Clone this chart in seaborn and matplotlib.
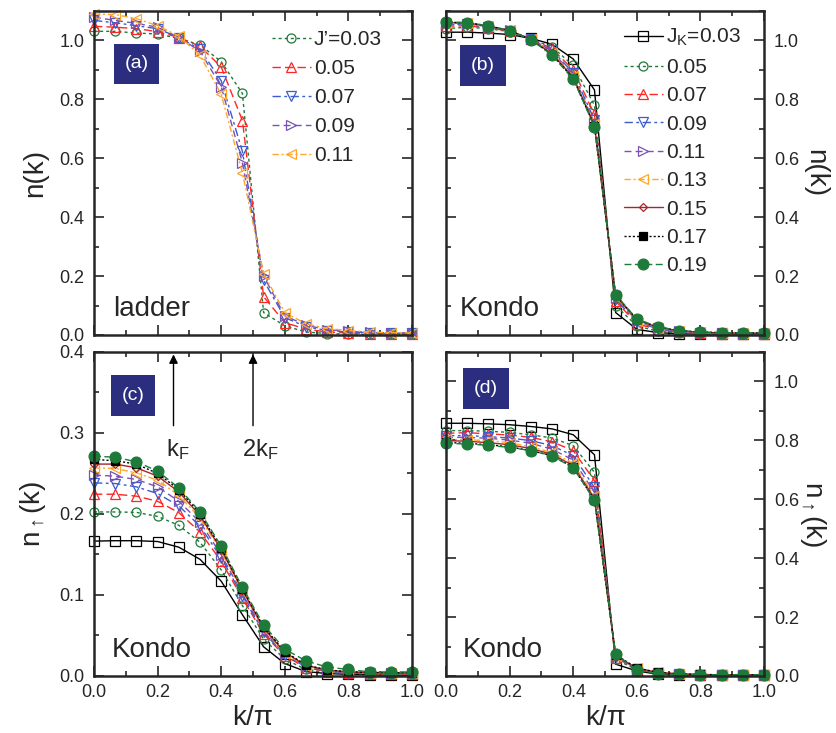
import numpy as np
import matplotlib
matplotlib.use("Agg")
import matplotlib.pyplot as plt
from matplotlib.patches import Rectangle
from matplotlib.ticker import MultipleLocator
import seaborn as sns

sns.set_style("ticks")
plt.rcParams["font.family"] = ["Liberation Sans", "DejaVu Sans"]
plt.rcParams["mathtext.default"] = "regular"

# momentum grid k/pi
k_over_pi = np.arange(16) / 15

# ---- (a) ladder, n(k) for several J'
ladder_labels = ["J\u2019=0.03", "0.05", "0.07", "0.09", "0.11"]
a_003 = [1.031, 1.031, 1.025, 1.022, 1.007, 0.985, 0.928, 0.820, 0.076, 0.031, 0.010, 0.005, 0.003, 0.002, 0.002, 0.002]
a_005 = [1.048, 1.045, 1.040, 1.030, 1.010, 0.980, 0.910, 0.728, 0.130, 0.042, 0.020, 0.010, 0.007, 0.005, 0.004, 0.004]
a_007 = [1.068, 1.060, 1.050, 1.040, 1.010, 0.970, 0.863, 0.623, 0.185, 0.059, 0.028, 0.015, 0.010, 0.008, 0.006, 0.006]
a_009 = [1.079, 1.068, 1.058, 1.045, 1.010, 0.964, 0.843, 0.584, 0.200, 0.065, 0.033, 0.018, 0.012, 0.009, 0.007, 0.007]
a_011 = [1.090, 1.088, 1.074, 1.050, 1.015, 0.950, 0.817, 0.550, 0.208, 0.076, 0.038, 0.022, 0.015, 0.010, 0.008, 0.007]

# ---- (b) Kondo, n(k) for several J_K
kondo_labels = ["J$_K$=0.03", "0.05", "0.07", "0.09", "0.11", "0.13", "0.15", "0.17", "0.19"]
b_003 = [1.028, 1.028, 1.025, 1.020, 1.007, 0.987, 0.937, 0.832, 0.076, 0.019, 0.008, 0.004, 0.003, 0.003, 0.003, 0.003]
b_005 = [1.040, 1.045, 1.040, 1.030, 1.005, 0.978, 0.915, 0.780, 0.100, 0.030, 0.013, 0.006, 0.004, 0.003, 0.003, 0.003]
b_007 = [1.048, 1.050, 1.042, 1.032, 1.005, 0.972, 0.900, 0.749, 0.115, 0.038, 0.018, 0.009, 0.006, 0.005, 0.004, 0.004]
b_009 = [1.053, 1.054, 1.045, 1.033, 1.004, 0.966, 0.890, 0.730, 0.122, 0.043, 0.021, 0.011, 0.007, 0.006, 0.005, 0.005]
b_011 = [1.056, 1.056, 1.047, 1.034, 1.004, 0.962, 0.883, 0.720, 0.127, 0.046, 0.023, 0.012, 0.008, 0.006, 0.005, 0.005]
b_013 = [1.058, 1.058, 1.048, 1.034, 1.004, 0.958, 0.878, 0.715, 0.130, 0.049, 0.025, 0.013, 0.009, 0.007, 0.006, 0.006]
b_015 = [1.060, 1.059, 1.049, 1.034, 1.003, 0.955, 0.874, 0.712, 0.133, 0.051, 0.026, 0.014, 0.009, 0.007, 0.006, 0.006]
b_017 = [1.062, 1.060, 1.050, 1.033, 1.003, 0.952, 0.871, 0.709, 0.135, 0.053, 0.027, 0.015, 0.010, 0.008, 0.007, 0.007]
b_019 = [1.064, 1.060, 1.050, 1.033, 1.003, 0.950, 0.868, 0.707, 0.137, 0.054, 0.028, 0.015, 0.010, 0.008, 0.007, 0.007]

# ---- (c) Kondo, spin-up n(k), small scale
c_003 = [0.1665, 0.167, 0.167, 0.166, 0.159, 0.144, 0.117, 0.0756, 0.036, 0.0153, 0.0054, 0.003, 0.002, 0.0015, 0.001, 0.001]
c_005 = [0.2025, 0.2025, 0.202, 0.197, 0.186, 0.165, 0.131, 0.0868, 0.0455, 0.0207, 0.008, 0.0045, 0.003, 0.0025, 0.002, 0.002]
c_007 = [0.2244, 0.2244, 0.222, 0.2157, 0.2017, 0.1777, 0.1417, 0.096, 0.0517, 0.0248, 0.0103, 0.0055, 0.0035, 0.003, 0.0025, 0.0025]
c_009 = [0.2384, 0.2376, 0.2335, 0.2252, 0.210, 0.185, 0.146, 0.099, 0.0537, 0.026, 0.011, 0.006, 0.004, 0.0035, 0.003, 0.003]
c_011 = [0.248, 0.2467, 0.2426, 0.2335, 0.2157, 0.190, 0.1496, 0.102, 0.0558, 0.0269, 0.012, 0.0065, 0.0045, 0.0038, 0.0033, 0.0033]
c_013 = [0.257, 0.2562, 0.2508, 0.2417, 0.2231, 0.195, 0.1537, 0.1045, 0.0579, 0.028, 0.0125, 0.007, 0.0048, 0.004, 0.0035, 0.0035]
c_015 = [0.2616, 0.2616, 0.257, 0.2467, 0.2273, 0.198, 0.156, 0.106, 0.059, 0.029, 0.013, 0.0072, 0.005, 0.0042, 0.0037, 0.0037]
c_017 = [0.2674, 0.2657, 0.2616, 0.250, 0.2302, 0.2004, 0.158, 0.107, 0.0607, 0.030, 0.0135, 0.0075, 0.0052, 0.0044, 0.004, 0.004]
c_019 = [0.2715, 0.270, 0.2645, 0.2529, 0.2322, 0.2025, 0.1603, 0.1095, 0.0628, 0.033, 0.0186, 0.011, 0.008, 0.005, 0.005, 0.005]

# ---- (d) Kondo, spin-up n(k), full scale
d_003 = [0.858, 0.858, 0.856, 0.853, 0.847, 0.839, 0.819, 0.751, 0.040, 0.017, 0.006, 0.003, 0.002, 0.002, 0.002, 0.002]
d_005 = [0.833, 0.833, 0.831, 0.827, 0.819, 0.808, 0.782, 0.691, 0.057, 0.020, 0.009, 0.005, 0.004, 0.003, 0.003, 0.003]
d_007 = [0.824, 0.826, 0.822, 0.818, 0.810, 0.795, 0.765, 0.663, 0.0625, 0.023, 0.010, 0.006, 0.004, 0.003, 0.003, 0.003]
d_009 = [0.816, 0.816, 0.8125, 0.808, 0.799, 0.782, 0.748, 0.640, 0.065, 0.024, 0.011, 0.006, 0.004, 0.003, 0.003, 0.003]
d_011 = [0.810, 0.810, 0.807, 0.801, 0.790, 0.770, 0.733, 0.623, 0.066, 0.025, 0.011, 0.006, 0.004, 0.004, 0.003, 0.003]
d_013 = [0.803, 0.802, 0.799, 0.792, 0.778, 0.759, 0.722, 0.611, 0.068, 0.026, 0.012, 0.007, 0.005, 0.004, 0.004, 0.004]
d_015 = [0.799, 0.797, 0.792, 0.785, 0.772, 0.753, 0.714, 0.603, 0.069, 0.026, 0.012, 0.007, 0.005, 0.004, 0.004, 0.004]
d_017 = [0.793, 0.790, 0.785, 0.778, 0.765, 0.748, 0.708, 0.597, 0.072, 0.027, 0.012, 0.007, 0.005, 0.004, 0.004, 0.004]
d_019 = [0.790, 0.7875, 0.783, 0.776, 0.765, 0.748, 0.706, 0.597, 0.074, 0.020, 0.007, 0.005, 0.004, 0.004, 0.004, 0.004]

GREEN = "#1d7a3a"
RED = "#ff2626"
BLUE = "#3a5ccc"
PURPLE = "#7a52b3"
ORANGE = "#ffa62b"
DKRED = "#a3282b"
BLACK = "#000000"

DOT = (0, (2.2, 2.2))
DASH = (0, (6, 3))
DASHDOT = (0, (6, 2.5, 2, 2.5))
DASH2 = (0, (5, 3))
DASHDOT2 = (0, (4.5, 2, 1.5, 2))
FINEDOT = (0, (1.5, 1.5))
DASH3 = (0, (5, 2.5))

ladder_styles = [
    dict(color=GREEN, linestyle=DOT, marker="o", filled=False, ms=6.5),
    dict(color=RED, linestyle=DASH, marker="^", filled=False, ms=6.5),
    dict(color=BLUE, linestyle=DASHDOT, marker="v", filled=False, ms=6.5),
    dict(color=PURPLE, linestyle=DASH2, marker=">", filled=False, ms=6.5),
    dict(color=ORANGE, linestyle=DASHDOT2, marker="<", filled=False, ms=6.5),
]
kondo_styles = [
    dict(color=BLACK, linestyle="-", marker="s", filled=False, ms=6.5),
    dict(color=GREEN, linestyle=DOT, marker="o", filled=False, ms=6.5),
    dict(color=RED, linestyle=DASH, marker="^", filled=False, ms=6.5),
    dict(color=BLUE, linestyle=DASHDOT, marker="v", filled=False, ms=6.5),
    dict(color=PURPLE, linestyle=DASH2, marker=">", filled=False, ms=6.5),
    dict(color=ORANGE, linestyle=DASHDOT2, marker="<", filled=False, ms=6.5),
    dict(color=DKRED, linestyle="-", marker="D", filled=False, ms=4.5),
    dict(color=BLACK, linestyle=FINEDOT, marker="s", filled=True, ms=6.0),
    dict(color=GREEN, linestyle=DASH3, marker="o", filled=True, ms=7.8),
]

ladder_series = [a_003, a_005, a_007, a_009, a_011]
kondo_b = [b_003, b_005, b_007, b_009, b_011, b_013, b_015, b_017, b_019]
kondo_c = [c_003, c_005, c_007, c_009, c_011, c_013, c_015, c_017, c_019]
kondo_d = [d_003, d_005, d_007, d_009, d_011, d_013, d_015, d_017, d_019]

fig = plt.figure(figsize=(8.37, 7.33), dpi=100)
W, H = 0.380, 0.442
ax_a = fig.add_axes([0.1123, 0.543, W, H])
ax_b = fig.add_axes([0.5329, 0.543, W, H])
ax_c = fig.add_axes([0.1123, 0.0778, W, H])
ax_d = fig.add_axes([0.5329, 0.0778, W, H])


def draw(ax, series, styles, labels):
    for vals, st, lab in zip(series, styles, labels):
        sns.lineplot(
            x=k_over_pi, y=vals, ax=ax, legend=False, errorbar=None,
            color=st["color"], linestyle=st["linestyle"], linewidth=1.0,
            marker=st["marker"], markersize=st["ms"],
            markerfacecolor=st["color"] if st["filled"] else "none",
            markeredgecolor=st["color"], markeredgewidth=0.9,
            label=lab, clip_on=False,
        )


draw(ax_a, ladder_series, ladder_styles, ladder_labels)
draw(ax_b, kondo_b, kondo_styles, kondo_labels)
draw(ax_c, kondo_c, kondo_styles, kondo_labels)
draw(ax_d, kondo_d, kondo_styles, kondo_labels)

for ax in (ax_a, ax_b, ax_c, ax_d):
    ax.set_xlim(0, 1)
    ax.xaxis.set_major_locator(MultipleLocator(0.2))
    ax.xaxis.set_minor_locator(MultipleLocator(0.1))
    ax.tick_params(which="both", direction="in", top=True, right=True,
                   labelsize=13)
    ax.tick_params(which="major", length=7, width=1.2)
    ax.tick_params(which="minor", length=3.5, width=1.2)
    ax.tick_params(axis="x", pad=6)
    ax.tick_params(axis="y", pad=7)
    for sp in ax.spines.values():
        sp.set_linewidth(1.8)
    ax.set_xlabel("")
    ax.set_ylabel("")

for ax in (ax_a, ax_b, ax_d):
    ax.set_ylim(0, 1.1)
    ax.yaxis.set_major_locator(MultipleLocator(0.2))
    ax.yaxis.set_minor_locator(MultipleLocator(0.1))
ax_c.set_ylim(0, 0.4)
ax_c.yaxis.set_major_locator(MultipleLocator(0.1))
ax_c.yaxis.set_minor_locator(MultipleLocator(0.05))

for ax in (ax_a, ax_b):
    ax.tick_params(labelbottom=False)
for ax in (ax_b, ax_d):
    ax.tick_params(labelleft=False, labelright=True)

for ax in (ax_a, ax_b, ax_c, ax_d):
    ax.set_yticklabels([f"{t:.1f}" for t in ax.get_yticks()])
for ax in (ax_c, ax_d):
    ax.set_xticklabels([f"{t:.1f}" for t in ax.get_xticks()])

LAB = 20
ax_a.set_ylabel("n(k)", fontsize=LAB, labelpad=8)
ax_c.set_ylabel(r"n$_{\uparrow}$(k)", fontsize=LAB, labelpad=8)
ax_b.yaxis.set_label_position("right")
ax_b.set_ylabel("n(k)", fontsize=LAB, rotation=270, labelpad=21)
ax_d.yaxis.set_label_position("right")
ax_d.set_ylabel(r"n$_{\uparrow}$(k)", fontsize=LAB, rotation=270, labelpad=21)
ax_c.set_xlabel("k/\u03c0", fontsize=LAB, labelpad=3)
ax_d.set_xlabel("k/\u03c0", fontsize=LAB, labelpad=3)

# legends
leg_kw = dict(frameon=False, numpoints=1, fontsize=15, handlelength=1.85,
              handletextpad=0.15, borderpad=0, borderaxespad=0,
              loc="upper left")
ax_a.legend(bbox_to_anchor=(0.56, 0.94), labelspacing=0.48, **leg_kw)
ax_b.legend(bbox_to_anchor=(0.56, 0.95), labelspacing=0.45, **leg_kw)

# panel tags
NAVY = "#2b2e7e"
tags = [(ax_a, "(a)", 0.063, 0.775, 0.141, 0.123),
        (ax_b, "(b)", 0.044, 0.769, 0.145, 0.126),
        (ax_c, "(c)", 0.053, 0.802, 0.139, 0.127),
        (ax_d, "(d)", 0.053, 0.824, 0.145, 0.127)]
for ax, txt, x0, y0, w, h in tags:
    ax.add_patch(Rectangle((x0, y0), w, h, transform=ax.transAxes,
                           facecolor=NAVY, edgecolor="none", zorder=5))
    ax.text(x0 + w / 2, y0 + h / 2, txt, transform=ax.transAxes,
            color="white", fontsize=14, ha="center", va="center", zorder=6)

# system names
ax_a.text(0.06, 0.06, "ladder", transform=ax_a.transAxes, fontsize=20,
          ha="left", va="baseline")
for ax, x in ((ax_b, 0.044), (ax_c, 0.056), (ax_d, 0.052)):
    ax.text(x, 0.06, "Kondo", transform=ax.transAxes, fontsize=20,
            ha="left", va="baseline")

# Fermi momentum markers
for xk, txt, xt in ((0.25, "k$_F$", 0.263), (0.5, "2k$_F$", 0.524)):
    ax_c.annotate("", xy=(xk, 0.397), xytext=(xk, 0.309),
                  arrowprops=dict(arrowstyle="-|>", color="black", lw=1.0,
                                  mutation_scale=13, shrinkA=0, shrinkB=0))
    ax_c.text(xt, 0.279, txt, fontsize=17, ha="center", va="center")

fig.savefig("out.png", dpi=100)
